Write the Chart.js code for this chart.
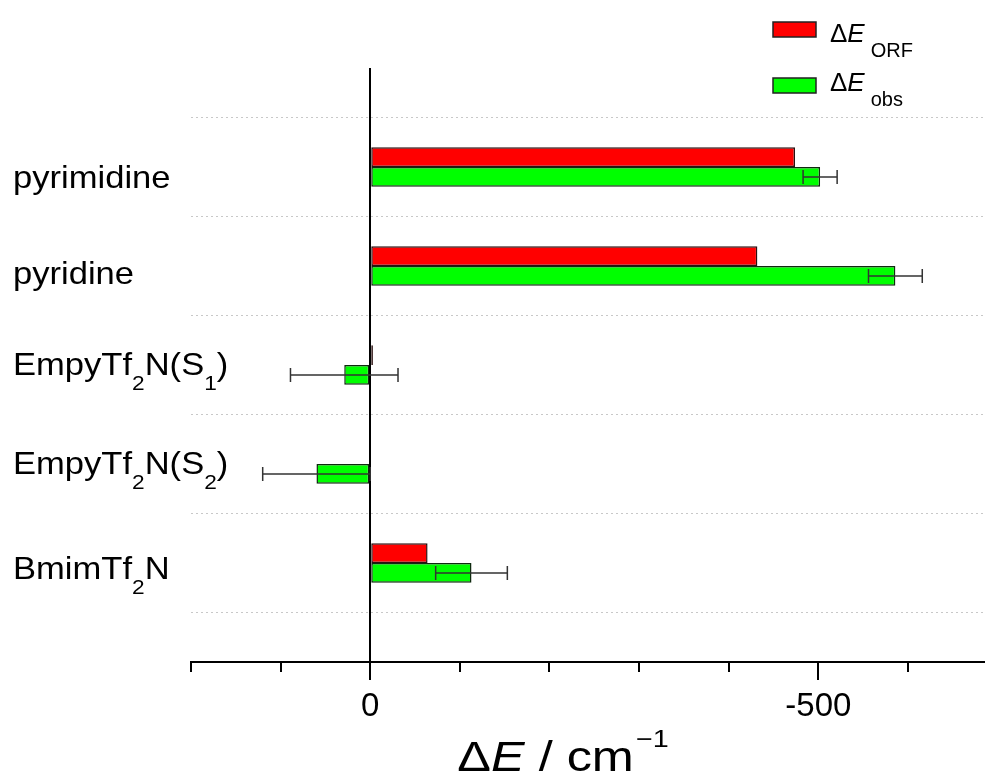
<!DOCTYPE html>
<html>
<head>
<meta charset="utf-8">
<script src="https://cdn.jsdelivr.net/npm/chart.js@4.4.1/dist/chart.umd.min.js"></script>
<style>
  html, body { margin: 0; padding: 0; background: #fff; }
  #wrap { width: 985px; height: 777px; position: relative; }
</style>
</head>
<body>
<div id="wrap"><canvas id="chart"></canvas></div>
<script>
// === Data (top to bottom) ===
var categories = ['pyrimidine', 'pyridine', 'EmpyTf₂N(S₁)', 'EmpyTf₂N(S₂)', 'BmimTf₂N'];
var orfValues = [-474, -432, -3, 0, -64];
var obsValues = [-502, -586, 29, 60, -113];
var obsErrors = [19, 30, 60, 60, 40];
var xTickValues = [200, 100, 0, -100, -200, -300, -400, -500, -600];
var xLabelledTicks = [0, -500];

var FONT = '"Liberation Sans", Arial, sans-serif';
var SUBS = '₀₁₂₃₄₅₆₇₈₉';
// small per-label baseline nudges, the labels sit a bit below their bars
var labelNudge = [21, 18, 10, 10, 16];

// one empty slot above and below so the categories sit like the original
var padLabels = [''].concat(categories, ['']);
function pad(arr) { return [null].concat(arr, [null]); }

function richParts(text, size, subSize, drop) {
    var parts = [];
    for (var i = 0; i < text.length; i++) {
        var k = SUBS.indexOf(text[i]);
        var sub = k >= 0;
        var ch = sub ? String(k) : text[i];
        var last = parts[parts.length - 1];
        if (last && last.sub === sub) last.t += ch;
        else parts.push({ t: ch, sub: sub, font: (sub ? subSize : size) + 'px ' + FONT, dy: sub ? drop : 0 });
    }
    return parts;
}

// draws text pieces one after another, sx stretches them sideways
function drawParts(ctx, parts, x, y, sx) {
    sx = sx || 1;
    parts.forEach(function(p) {
        ctx.font = p.font;
        ctx.save();
        ctx.translate(x + (p.dx || 0), y + (p.dy || 0));
        ctx.scale(sx, 1);
        ctx.fillText(p.t, 0, 0);
        ctx.restore();
        x += (ctx.measureText(p.t).width + (p.dx || 0)) * 1 + ctx.measureText(p.t).width * (sx - 1);
    });
    return x;
}

function partsWidth(ctx, parts, sx) {
    var w = 0;
    parts.forEach(function(p) { ctx.font = p.font; w += ctx.measureText(p.t).width * (sx || 1) + (p.dx || 0); });
    return w;
}

var extras = {
    id: 'extras',
    afterDatasetsDraw: function(chart) {
        // error bars on the observed series
        var ctx = chart.ctx;
        var xs = chart.scales.x;
        var meta = chart.getDatasetMeta(1);
        ctx.save();
        ctx.strokeStyle = '#333';
        ctx.lineWidth = 1.5;
        obsValues.forEach(function(v, i) {
            var el = meta.data[i + 1];
            if (!el) return;
            var y = el.y;
            var x1 = xs.getPixelForValue(v - obsErrors[i]);
            var x2 = xs.getPixelForValue(v + obsErrors[i]);
            ctx.beginPath();
            ctx.moveTo(x1, y); ctx.lineTo(x2, y);
            ctx.moveTo(x1, y - 7); ctx.lineTo(x1, y + 7);
            ctx.moveTo(x2, y - 7); ctx.lineTo(x2, y + 7);
            ctx.stroke();
        });
        ctx.restore();
    },
    afterDraw: function(chart) {
        var ctx = chart.ctx;
        var xs = chart.scales.x;
        var ys = chart.scales.y;
        var axisY = chart.chartArea.bottom;
        ctx.save();

        // tick marks below the axis
        ctx.strokeStyle = '#000';
        ctx.lineWidth = 2;
        xTickValues.forEach(function(v) {
            var px = Math.round(xs.getPixelForValue(v));
            var len = xLabelledTicks.indexOf(v) >= 0 ? 18 : 10;
            ctx.beginPath();
            ctx.moveTo(px, axisY);
            ctx.lineTo(px, axisY + len);
            ctx.stroke();
        });

        // category labels with subscripts
        ctx.fillStyle = '#000';
        ctx.textBaseline = 'alphabetic';
        ctx.textAlign = 'left';
        categories.forEach(function(c, i) {
            var y = ys.getPixelForValue(i + 1) + labelNudge[i];
            drawParts(ctx, richParts(c, 32, 21, 15), 13, y, 1.08);
        });

        // legend
        var legend = [
            { color: '#ff0000', sub: 'ORF', boxY: 22, textY: 42 },
            { color: '#00ff00', sub: 'obs', boxY: 78, textY: 91 }
        ];
        legend.forEach(function(l) {
            ctx.fillStyle = l.color;
            ctx.fillRect(773, l.boxY, 43, 15);
            ctx.strokeStyle = '#222';
            ctx.lineWidth = 1.5;
            ctx.strokeRect(773, l.boxY, 43, 15);
            ctx.fillStyle = '#000';
            drawParts(ctx, [
                { t: 'Δ', font: '26px ' + FONT },
                { t: 'E', font: 'italic 26px ' + FONT },
                { t: l.sub, font: '20px ' + FONT, dy: 15, dx: 6 }
            ], 830, l.textY);
        });

        // axis title
        var title = [
            { t: 'Δ', font: '42px ' + FONT },
            { t: 'E', font: 'italic 42px ' + FONT },
            { t: ' / cm', font: '42px ' + FONT },
            { t: '−1', font: '24px ' + FONT, dy: -24, dx: 2 }
        ];
        var tw = partsWidth(ctx, title, 1.2);
        drawParts(ctx, title, 563 - tw / 2, 771, 1.2);

        ctx.restore();
    }
};

new Chart(document.getElementById('chart').getContext('2d'), {
    type: 'bar',
    data: {
        labels: padLabels,
        datasets: [{
            label: 'ΔE ORF',
            data: pad(orfValues),
            backgroundColor: '#ff0000',
            borderColor: '#2a1010',
            borderWidth: 1.5,
            borderSkipped: false
        }, {
            label: 'ΔE obs',
            data: pad(obsValues),
            backgroundColor: '#00ff00',
            borderColor: '#0f2a0f',
            borderWidth: 1.5,
            borderSkipped: false
        }]
    },
    options: {
        indexAxis: 'y',
        responsive: true,
        maintainAspectRatio: false,
        animation: false,
        layout: { padding: { left: 191, right: 0, top: 68, bottom: 35 } },
        datasets: { bar: { categoryPercentage: 0.4, barPercentage: 1.0 } },
        plugins: { legend: { display: false }, tooltip: { enabled: false } },
        scales: {
            x: {
                type: 'linear',
                reverse: true,
                min: -686,
                max: 200,
                afterBuildTicks: function(scale) {
                    scale.ticks = xTickValues.map(function(v) { return { value: v }; });
                },
                afterFit: function(scale) { scale.height = 80; },
                grid: {
                    drawTicks: false,
                    lineWidth: 2,
                    color: function(c) {
                        return c.tick && c.tick.value === 0 ? '#000' : 'rgba(0,0,0,0)';
                    }
                },
                border: { display: true, color: '#000', width: 2 },
                ticks: {
                    autoSkip: false,
                    maxRotation: 0,
                    padding: 25,
                    color: '#000',
                    font: { family: FONT, size: 33 },
                    callback: function(v) {
                        return xLabelledTicks.indexOf(v) >= 0 ? String(v) : '';
                    }
                }
            },
            y: {
                type: 'category',
                offset: false,
                afterFit: function(scale) { scale.width = 0; },
                ticks: { display: false },
                grid: { offset: true, drawTicks: false, color: '#c8c8c8', lineWidth: 1 },
                border: { display: false, dash: [2, 3] }
            }
        }
    },
    plugins: [extras]
});
</script>
</body>
</html>
